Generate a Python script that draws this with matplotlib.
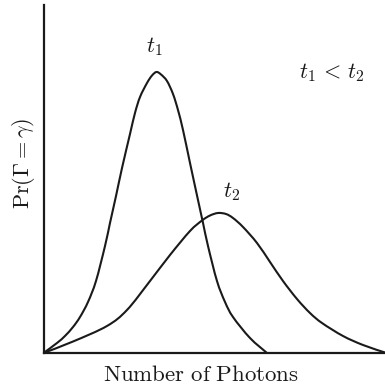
import matplotlib
matplotlib.use("Agg")
import matplotlib.pyplot as plt
import numpy as np
from matplotlib.path import Path
from matplotlib.patches import PathPatch

plt.rcParams['mathtext.fontset'] = 'cm'

# Curve t1 (x: photons, arbitrary units 0-100; y: probability, arbitrary 0-1)
t1_px = [0, 3.95, 6.29, 8.64, 10.69, 13.03, 15.37, 18.01, 19.47, 21.23, 22.99,
         25.33, 26.79, 28.26, 30.31, 31.77, 33.09, 34.41, 36.16, 37.92, 39.38,
         40.85, 42.90, 45.24, 46.71, 48.17, 50.80, 53.15, 55.49, 60.47, 65.45]
t1_py = [0, 0.0287, 0.0489, 0.0747, 0.1034, 0.1466, 0.2069, 0.3075, 0.3736,
         0.4511, 0.5316, 0.6293, 0.6897, 0.7356, 0.7759, 0.7974, 0.8075, 0.8003,
         0.7816, 0.7443, 0.6983, 0.6408, 0.5460, 0.4397, 0.3736, 0.3075, 0.2069,
         0.1466, 0.1034, 0.0431, 0]

# Curve t2
t2_px = [0, 8.64, 18.59, 24.45, 31.19, 37.04, 42.90, 46.41, 48.76, 51.10, 53.44,
         55.49, 58.42, 62.52, 66.33, 70.13, 74.23, 78.04, 81.55, 87.70, 93.56, 100]
t2_py = [0, 0.0330, 0.0776, 0.1236, 0.2069, 0.2816, 0.3506, 0.3807, 0.3951, 0.4023,
         0.3994, 0.3879, 0.3621, 0.3161, 0.2615, 0.2069, 0.1552, 0.1149, 0.0862,
         0.0489, 0.0230, 0.0014]


def smooth_path(xs, ys):
    """Bezier path passing through the given points (Catmull-Rom tangents)."""
    p = np.column_stack([xs, ys]).astype(float)
    n = len(p)
    verts = [p[0]]
    codes = [Path.MOVETO]
    for i in range(n - 1):
        p0 = p[i - 1] if i > 0 else p[i]
        p1 = p[i]
        p2 = p[i + 1]
        p3 = p[i + 2] if i + 2 < n else p[i + 1]
        c1 = p1 + (p2 - p0) / 6.0
        c2 = p2 - (p3 - p1) / 6.0
        verts += [c1, c2, p2]
        codes += [Path.CURVE4] * 3
    return Path(verts, codes)


fig = plt.figure(figsize=(3.85, 3.86), dpi=100)
ax = fig.add_axes([43.5/385, 33/386, (385-43.5)/385, (353-5)/386])
for xs, ys in [(t1_px, t1_py), (t2_px, t2_py)]:
    ax.add_patch(PathPatch(smooth_path(xs, ys), facecolor='none',
                           edgecolor='#1a1a1a', lw=1.5, capstyle='round'))
ax.set_xlim(0, 100)
ax.set_ylim(0, 1)
ax.set_xticks([])
ax.set_yticks([])
for s in ['top', 'right']:
    ax.spines[s].set_visible(False)
for s in ['left', 'bottom']:
    ax.spines[s].set_linewidth(1.6)
    ax.spines[s].set_color('#1a1a1a')

ax.text(32.4, 0.88, r'$t_1$', fontsize=16, ha='center', va='center', color='#1a1a1a')
ax.text(55.2, 0.465, r'$t_2$', fontsize=16, ha='center', va='center', color='#1a1a1a')
ax.text(84.5, 0.807, r'$t_1\,<\,t_2$', fontsize=16, ha='center', va='center', color='#1a1a1a')

ax.set_xlabel(r'$\mathrm{Number\ of\ Photons}$', fontsize=16.5, color='#1a1a1a')
ax.xaxis.set_label_coords(0.46, -0.03)
ax.set_ylabel(r'$\mathrm{Pr}(\Gamma = \gamma)$', fontsize=16, color='#1a1a1a')
ax.yaxis.set_label_coords(-0.02, 0.545)

fig.savefig('out.png', dpi=100)
